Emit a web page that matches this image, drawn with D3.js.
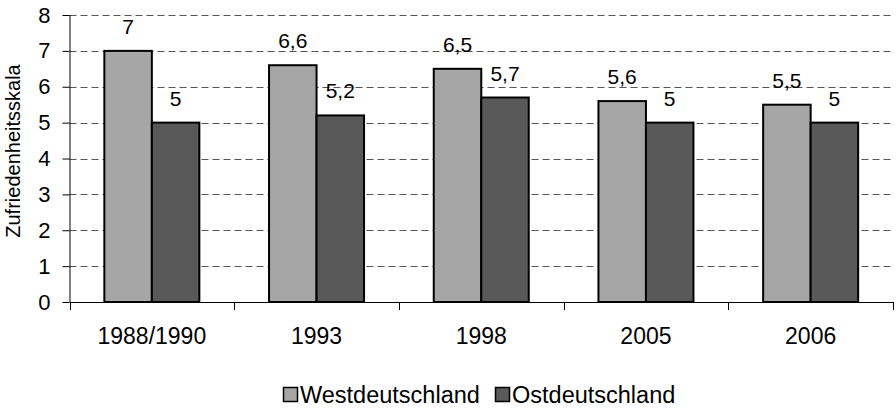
<!DOCTYPE html>
<html>
<head>
<meta charset="utf-8">
<script src="https://cdn.jsdelivr.net/npm/d3@7"></script>
<style>
  html, body { margin: 0; padding: 0; background: #fff; }
  svg { display: block; font-family: "Liberation Sans", Arial, Helvetica, sans-serif; }
</style>
</head>
<body>
<svg id="chart" width="896" height="412"></svg>
<script>
const categories = ["1988/1990", "1993", "1998", "2005", "2006"];
const seriesNames = ["Westdeutschland", "Ostdeutschland"];
const westValues = [7, 6.6, 6.5, 5.6, 5.5];
const ostValues = [5, 5.2, 5.7, 5, 5];
const yTicks = [0, 1, 2, 3, 4, 5, 6, 7, 8];
const axisTitle = "Zufriedenheitsskala";
const colors = ["#a6a6a6", "#595959"];

const svg = d3.select("#chart");
const margin = { left: 69.5, right: 893, top: 15, bottom: 302 };

const x = d3.scaleBand().domain(categories).range([margin.left, margin.right]).paddingInner(0).paddingOuter(0);
const y = d3.scaleLinear().domain([0, 8]).range([margin.bottom, margin.top]);

const fmt = v => String(v).replace(".", ",");

// gridlines
svg.append("g").selectAll("line").data(yTicks.filter(t => t > 0)).join("line")
  .attr("x1", margin.left).attr("x2", margin.right)
  .attr("y1", d => Math.round(y(d)) + 0.5).attr("y2", d => Math.round(y(d)) + 0.5)
  .attr("stroke", "#555").attr("stroke-width", 1).attr("stroke-dasharray", "7,4");

// bars
const rows = categories.map((c, i) => ({ c, vals: [westValues[i], ostValues[i]] }));
const bw = 47.5;
const g = svg.append("g");
rows.forEach(r => {
  const cx = x(r.c) + x.bandwidth() / 2;
  r.vals.forEach((v, j) => {
    const x0 = cx - bw + j * bw;
    g.append("rect")
      .attr("x", x0).attr("y", y(v))
      .attr("width", bw).attr("height", y(0) - y(v))
      .attr("fill", colors[j]).attr("stroke", "#000").attr("stroke-width", 2);
    g.append("text")
      .attr("x", x0 + bw / 2).attr("y", y(v) - 17)
      .attr("text-anchor", "middle").attr("font-size", 21).attr("fill", "#000")
      .text(fmt(v));
  });
});

// y axis
const yAxis = d3.axisLeft(y).tickValues(yTicks).tickSize(7).tickPadding(12).tickFormat(d => d);
const ya = svg.append("g").attr("transform", `translate(${margin.left},0)`).call(yAxis);
ya.select(".domain").attr("stroke", "#000").attr("d", `M0.5,${margin.top}V${margin.bottom}`);
ya.selectAll(".tick line").attr("stroke", "#000");
ya.selectAll(".tick text").attr("font-size", 22).attr("fill", "#000").attr("font-family", "Liberation Sans, Arial, sans-serif");

// x axis
const xa = svg.append("g").attr("transform", `translate(0,${margin.bottom})`);
xa.append("line").attr("x1", margin.left).attr("x2", margin.right).attr("y1", 0.5).attr("y2", 0.5).attr("stroke", "#000");
const bounds = categories.map(c => x(c)).concat([margin.right]);
xa.selectAll("line.tk").data(bounds).join("line").attr("class", "tk")
  .attr("x1", d => Math.round(d) + 0.5).attr("x2", d => Math.round(d) + 0.5)
  .attr("y1", 0).attr("y2", 8).attr("stroke", "#000");
xa.selectAll("text").data(categories).join("text")
  .attr("x", d => x(d) + x.bandwidth() / 2).attr("y", 42)
  .attr("text-anchor", "middle").attr("font-size", 23).attr("fill", "#000")
  .text(d => d);

// axis title
svg.append("text")
  .attr("transform", "translate(19.5,151) rotate(-90)")
  .attr("text-anchor", "middle").attr("font-size", 20).attr("fill", "#000")
  .text(axisTitle);

// legend
const legX = [283, 495];
const lg = svg.append("g");
seriesNames.forEach((n, j) => {
  lg.append("rect").attr("x", legX[j] + 0.5).attr("y", 387.5).attr("width", 14).attr("height", 14)
    .attr("fill", colors[j]).attr("stroke", "#000").attr("stroke-width", 1.5);
  lg.append("text").attr("x", legX[j] + 17).attr("y", 403)
    .attr("font-size", 23.5).attr("fill", "#000").text(n);
});
</script>
</body>
</html>
